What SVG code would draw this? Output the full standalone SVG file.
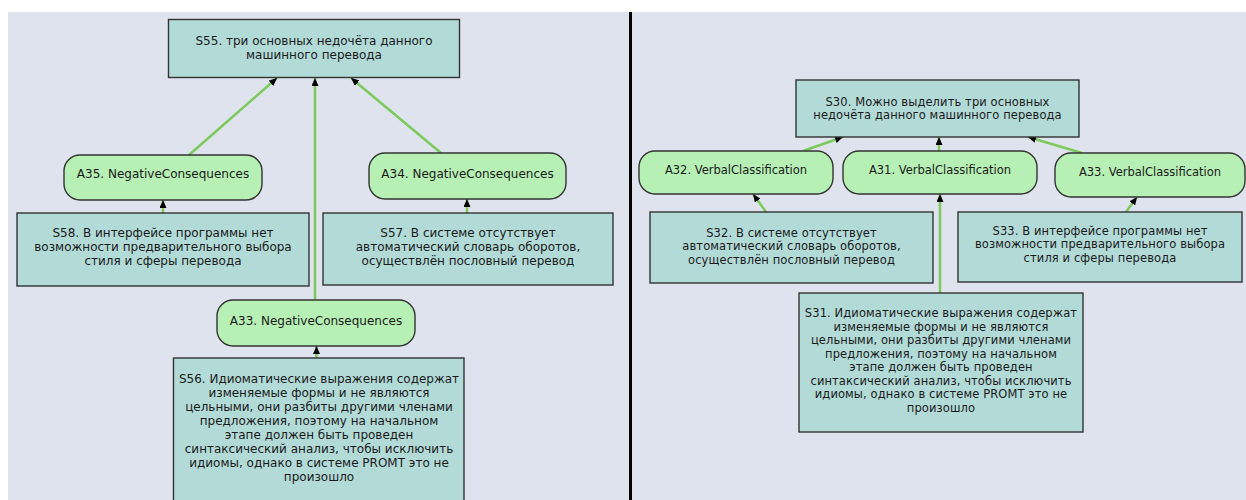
<svg xmlns="http://www.w3.org/2000/svg" width="1246" height="500" viewBox="0 0 1246 500">
<style>
.bg{fill:#dfe3ee}
.rect{fill:#b2dbd8;stroke:#333;stroke-width:1.4}
.pill{fill:#b6f0b4;stroke:#333;stroke-width:1.4}
.e{stroke:#7cc95c;stroke-width:2.5;fill:none;marker-end:url(#ah)}
text{font-family:"DejaVu Sans",sans-serif;fill:#1a1a1a;text-anchor:middle}
.l{font-size:12px}
.r{font-size:11.5px;letter-spacing:0.1px}
.lp{font-size:12px}
.rp{font-size:11.5px}
</style>
<defs>
<marker id="ah" markerUnits="userSpaceOnUse" viewBox="0 0 8 7" refX="8" refY="3.5" markerWidth="8" markerHeight="7" orient="auto">
<path d="M0,0 L8,3.5 L0,7 Z" fill="#000"/>
</marker>
</defs>
<rect x="0" y="0" width="1246" height="500" fill="#fff"/>
<rect class="bg" x="8" y="12" width="621" height="488"/>
<rect class="bg" x="632" y="12" width="614" height="488"/>
<rect x="629" y="12" width="3" height="488" fill="#000"/>

<g id="connectors">
<line class="e" x1="189" y1="155" x2="277" y2="78"/>
<line class="e" x1="441" y1="153" x2="351" y2="78"/>
<line class="e" x1="315" y1="300" x2="315" y2="78"/>
<line class="e" x1="163" y1="213" x2="163" y2="200"/>
<line class="e" x1="467" y1="213" x2="467" y2="199"/>
<line class="e" x1="316.5" y1="358" x2="316.5" y2="346"/>
<line class="e" x1="803" y1="151" x2="843" y2="137"/>
<line class="e" x1="939" y1="151" x2="939" y2="137"/>
<line class="e" x1="1082" y1="153" x2="1028" y2="137"/>
<line class="e" x1="766" y1="212" x2="753" y2="194"/>
<line class="e" x1="940" y1="293" x2="940" y2="194"/>
<line class="e" x1="1126" y1="212" x2="1137" y2="197"/>
</g>

<g id="S55">
<rect class="rect" x="168.5" y="19.5" width="291" height="58"/>
<text class="l" x="314" y="44.5">S55. три основных недочёта данного</text>
<text class="l" x="314" y="58.5">машинного перевода</text>
</g>
<g id="A35">
<rect class="pill" x="64" y="155" width="198" height="45" rx="16"/>
<text class="lp" x="163" y="177.5">A35. NegativeConsequences</text>
</g>
<g id="A34">
<rect class="pill" x="369" y="153" width="197" height="46" rx="16"/>
<text class="lp" x="467.5" y="177.5">A34. NegativeConsequences</text>
</g>
<g id="S58">
<rect class="rect" x="17" y="213" width="292" height="73"/>
<text class="l" x="163" y="237">S58. В интерфейсе программы нет</text>
<text class="l" x="163" y="251">возможности предварительного выбора</text>
<text class="l" x="163" y="265">стиля и сферы перевода</text>
</g>
<g id="S57">
<rect class="rect" x="323" y="213" width="290" height="72"/>
<text class="l" x="468" y="237">S57. В системе отсутствует</text>
<text class="l" x="468" y="251">автоматический словарь оборотов,</text>
<text class="l" x="468" y="265">осуществлён пословный перевод</text>
</g>
<g id="A33L">
<rect class="pill" x="217" y="300" width="198" height="46" rx="16"/>
<text class="lp" x="316" y="325">A33. NegativeConsequences</text>
</g>
<g id="S56">
<rect class="rect" x="173.5" y="358" width="290.5" height="150"/>
<text class="l" x="319" y="382.5">S56. Идиоматические выражения содержат</text>
<text class="l" x="319" y="396.5">изменяемые формы и не являются</text>
<text class="l" x="319" y="410.5">цельными, они разбиты другими членами</text>
<text class="l" x="319" y="424.5">предложения, поэтому на начальном</text>
<text class="l" x="319" y="438.5">этапе должен быть проведен</text>
<text class="l" x="319" y="452.5">синтаксический анализ, чтобы исключить</text>
<text class="l" x="319" y="466.5">идиомы, однако в системе PROMT это не</text>
<text class="l" x="319" y="480.5">произошло</text>
</g>

<g id="S30">
<rect class="rect" x="796" y="80" width="283" height="57"/>
<text class="r" x="937.5" y="105.5">S30. Можно выделить три основных</text>
<text class="r" x="937.5" y="119">недочёта данного машинного перевода</text>
</g>
<g id="A32">
<rect class="pill" x="639" y="151" width="194" height="43" rx="16"/>
<text class="rp" x="736" y="173.5">A32. VerbalClassification</text>
</g>
<g id="A31">
<rect class="pill" x="843" y="151" width="194" height="43" rx="16"/>
<text class="rp" x="940" y="173.5">A31. VerbalClassification</text>
</g>
<g id="A33R">
<rect class="pill" x="1055" y="153" width="190" height="44" rx="16"/>
<text class="rp" x="1150" y="176">A33. VerbalClassification</text>
</g>
<g id="S32">
<rect class="rect" x="650" y="212" width="283" height="71"/>
<text class="r" x="791.5" y="236.5">S32. В системе отсутствует</text>
<text class="r" x="791.5" y="250">автоматический словарь оборотов,</text>
<text class="r" x="791.5" y="263.5">осуществлён пословный перевод</text>
</g>
<g id="S33">
<rect class="rect" x="958" y="212" width="284" height="70"/>
<text class="r" x="1100" y="234.5">S33. В интерфейсе программы нет</text>
<text class="r" x="1100" y="248">возможности предварительного выбора</text>
<text class="r" x="1100" y="261.5">стиля и сферы перевода</text>
</g>
<g id="S31">
<rect class="rect" x="799" y="293" width="284" height="139"/>
<text class="r" x="941" y="317">S31. Идиоматические выражения содержат</text>
<text class="r" x="941" y="330.5">изменяемые формы и не являются</text>
<text class="r" x="941" y="344">цельными, они разбиты другими членами</text>
<text class="r" x="941" y="357.5">предложения, поэтому на начальном</text>
<text class="r" x="941" y="371">этапе должен быть проведен</text>
<text class="r" x="941" y="384.5">синтаксический анализ, чтобы исключить</text>
<text class="r" x="941" y="398">идиомы, однако в системе PROMT это не</text>
<text class="r" x="941" y="411.5">произошло</text>
</g>
</svg>
